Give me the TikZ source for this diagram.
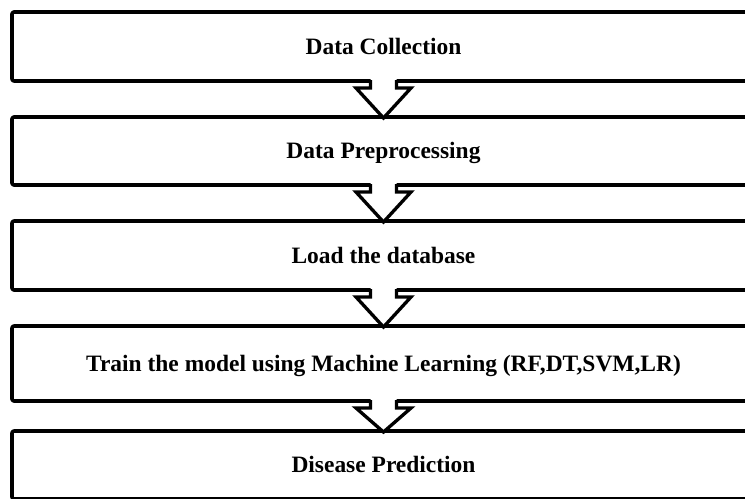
\documentclass[tikz,border=0pt]{standalone}
\usepackage{fontspec}
\setmainfont{Liberation Serif}
\usetikzlibrary{calc,shadows}
\begin{document}
\begin{tikzpicture}[x=0.75pt, y=-0.75pt, line join=round, line cap=round,
	stage/.style={draw=black, line width=2.7pt, rounded corners=1.5pt, fill=white, outer sep=0pt,
		minimum width=557.25pt, minimum height=51.75pt, text height=11.6pt, text depth=0pt,
		font=\fontsize{17.6}{20}\selectfont\bfseries,
		drop shadow={shadow xshift=0.5pt, shadow yshift=-1pt, opacity=0.2}},
	flow/.style={draw=black, line width=2.5pt, line join=miter, line cap=butt}]
			% Khung nền
			\useasboundingbox (0,0) rectangle (745,499);
			\fill[white] (0,0) rectangle (745,499);
			\clip (0,0) rectangle (745,499);
			% Các khối
			\node[stage] (collect) at (383.5,46.5) {Data Collection};
			\node[stage, minimum height=51pt] (prep) at (383.5,151) {Data Preprocessing};
			\node[stage] (load) at (383.5,255.5) {Load the database};
			\node[stage, minimum height=56.25pt] (train) at (383.5,363.5) {Train the model using Machine Learning (RF,DT,SVM,LR)};
			\node[stage, minimum height=51pt] (predict) at (383.5,465) {Disease Prediction};
			% Mũi tên giữa các khối: tô trắng rồi vẽ viền
			\foreach \a/\b in {collect/prep, prep/load, load/train, train/predict}{
			\fill[white] ($(\a.south)+(-13,-2.2)$) -- ($(\a.south)+(-13,7)$) -- ($(\a.south)+(-27.5,7)$)
			-- ($(\b.north)+(0,1)$) -- ($(\a.south)+(27.5,7)$) -- ($(\a.south)+(13,7)$) -- ($(\a.south)+(13,-2.2)$) -- cycle;
			\draw[flow] ($(\a.south)+(-13,-0.8)$) -- ($(\a.south)+(-13,7)$) -- ($(\a.south)+(-27.5,7)$)
			-- ($(\b.north)+(0,1)$) -- ($(\a.south)+(27.5,7)$) -- ($(\a.south)+(13,7)$) -- ($(\a.south)+(13,-0.8)$);
			}
		\end{tikzpicture}
\end{document}
